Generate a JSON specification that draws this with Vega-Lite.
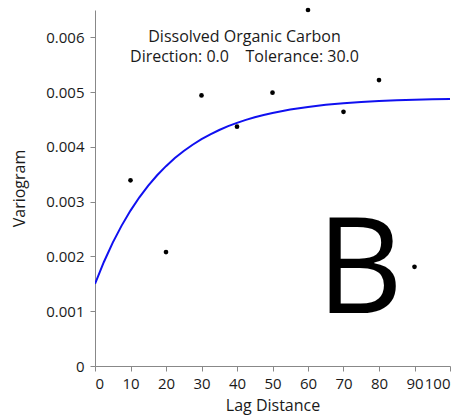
{
  "$schema": "https://vega.github.io/schema/vega-lite/v6.json",
  "width": 355,
  "height": 356,
  "autosize": "none",
  "padding": {"left": 95, "top": 10, "right": 9, "bottom": 52},
  "background": "white",
  "config": {
    "view": {"stroke": null},
    "font": "Open Sans",
    "axis": {
      "grid": false,
      "domainColor": "#888888",
      "tickColor": "#888888",
      "tickSize": 5,
      "labelColor": "#1a1a1a",
      "titleColor": "#1a1a1a",
      "labelFontSize": 15,
      "titleFontSize": 16,
      "titleFontWeight": "normal",
      "labelFont": "Open Sans",
      "titleFont": "Open Sans"
    }
  },
  "datasets": {
    "points": [
      {"lag": 10, "gamma": 0.00339},
      {"lag": 20, "gamma": 0.00208},
      {"lag": 30, "gamma": 0.00494},
      {"lag": 40, "gamma": 0.00437},
      {"lag": 50, "gamma": 0.00499},
      {"lag": 60, "gamma": 0.0065},
      {"lag": 70, "gamma": 0.00464},
      {"lag": 80, "gamma": 0.00522},
      {"lag": 90, "gamma": 0.00181}
    ],
    "model": [
      {"lag": 0, "gamma": 0.0015},
      {"lag": 2.5, "gamma": 0.0018995},
      {"lag": 5, "gamma": 0.0022521},
      {"lag": 7.5, "gamma": 0.0025632},
      {"lag": 10, "gamma": 0.0028378},
      {"lag": 12.5, "gamma": 0.0030801},
      {"lag": 15, "gamma": 0.0032939},
      {"lag": 17.5, "gamma": 0.0034827},
      {"lag": 20, "gamma": 0.0036492},
      {"lag": 22.5, "gamma": 0.0037962},
      {"lag": 25, "gamma": 0.0039259},
      {"lag": 27.5, "gamma": 0.0040403},
      {"lag": 30, "gamma": 0.0041414},
      {"lag": 32.5, "gamma": 0.0042305},
      {"lag": 35, "gamma": 0.0043092},
      {"lag": 37.5, "gamma": 0.0043786},
      {"lag": 40, "gamma": 0.0044398},
      {"lag": 42.5, "gamma": 0.0044939},
      {"lag": 45, "gamma": 0.0045416},
      {"lag": 47.5, "gamma": 0.0045838},
      {"lag": 50, "gamma": 0.0046209},
      {"lag": 55, "gamma": 0.0046826},
      {"lag": 60, "gamma": 0.0047307},
      {"lag": 65, "gamma": 0.0047682},
      {"lag": 70, "gamma": 0.0047973},
      {"lag": 75, "gamma": 0.00482},
      {"lag": 80, "gamma": 0.0048377},
      {"lag": 85, "gamma": 0.0048515},
      {"lag": 90, "gamma": 0.0048622},
      {"lag": 95, "gamma": 0.0048706},
      {"lag": 100, "gamma": 0.0048771}
    ],
    "labels": [
      {"lag": 42.1, "gamma": 0.006, "label": "Dissolved Organic Carbon\nDirection: 0.0\u00a0\u00a0\u00a0\u00a0Tolerance: 30.0"}
    ],
    "letter": [
      {"lag": 74.6, "gamma": 0.00096, "label": "B"}
    ]
  },
  "encoding": {
    "x": {
      "field": "lag",
      "type": "quantitative",
      "scale": {"domain": [0, 100], "nice": false, "zero": true},
      "axis": {"title": "Lag Distance", "values": [0, 10, 20, 30, 40, 50, 60, 70, 80, 90, 100], "labelPadding": 5, "titlePadding": 6}
    },
    "y": {
      "field": "gamma",
      "type": "quantitative",
      "scale": {"domain": [0, 0.0065], "nice": false},
      "axis": {
        "title": "Variogram",
        "values": [0, 0.001, 0.002, 0.003, 0.004, 0.005, 0.006],
        "labelExpr": "datum.value == 0 ? '0' : format(datum.value, '.3f')",
        "labelPadding": 6,
        "titlePadding": 18
      }
    }
  },
  "layer": [
    {
      "data": {"name": "model"},
      "mark": {"type": "line", "color": "#1010F0", "strokeWidth": 2, "clip": true}
    },
    {
      "data": {"name": "points"},
      "mark": {"type": "circle", "color": "black", "opacity": 1, "size": 22}
    },
    {
      "data": {"name": "labels"},
      "mark": {"type": "text", "fontSize": 16, "lineBreak": "\n", "lineHeight": 20, "color": "#1a1a1a", "align": "center", "baseline": "middle", "font": "Open Sans"},
      "encoding": {"text": {"field": "label"}}
    },
    {
      "data": {"name": "letter"},
      "mark": {"type": "text", "fontSize": 134, "color": "black", "align": "center", "baseline": "alphabetic", "font": "Open Sans"},
      "encoding": {"text": {"field": "label"}}
    }
  ]
}
